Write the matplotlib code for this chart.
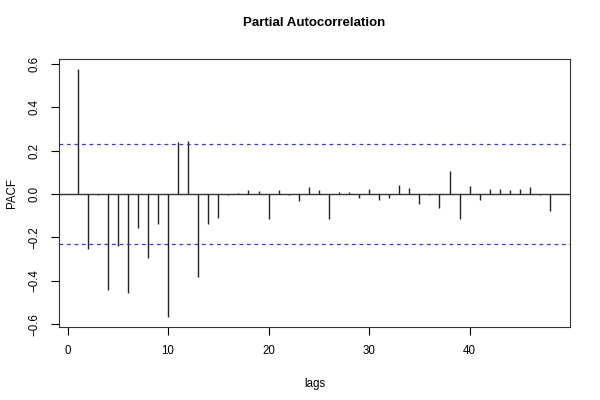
import matplotlib
matplotlib.use("Agg")
import matplotlib.pyplot as plt
import numpy as np

plt.rcParams['font.family'] = ['Liberation Sans', 'DejaVu Sans']

lags = list(range(1, 49))
pacf = [0.577, -0.252, -0.003, -0.441, -0.238, -0.454, -0.155, -0.294, -0.137, -0.566,
        0.240, 0.245, -0.381, -0.140, -0.112, -0.005, 0.003, 0.017, 0.014, -0.113,
        0.018, -0.005, -0.031, 0.032, 0.018, -0.113, 0.010, 0.010, -0.019, 0.022,
        -0.028, -0.017, 0.040, 0.030, -0.048, -0.003, -0.066, 0.108, -0.117, 0.037,
        -0.025, 0.023, 0.023, 0.018, 0.022, 0.032, -0.002, -0.080]
conf = 0.231
xticks = [0, 10, 20, 30, 40]
yticks = [-0.6, -0.4, -0.2, 0.0, 0.2, 0.4, 0.6]

fig = plt.figure(figsize=(6, 4), dpi=100)
ax = fig.add_axes([0.0983, 0.183, 0.852, 0.669])

ax.vlines(lags, 0, pacf, colors='#222222', linewidth=1.0)
ax.axhline(0, color='#333333', linewidth=1.0)
ax.axhline(conf, color='#3333ff', linestyle=(0, (3, 3)), linewidth=0.9)
ax.axhline(-conf, color='#3333ff', linestyle=(0, (3, 3)), linewidth=0.9)

ax.set_xlim(-0.85, 50.0)
ax.set_ylim(-0.612, 0.622)
ax.set_xticks(xticks)
ax.set_xticklabels([str(t) for t in xticks])
ax.set_yticks(yticks)
ax.set_yticklabels([f"{t:.1f}".replace('-', '\u2212') for t in yticks], rotation=90, va='center')
ax.tick_params(direction='out', length=6, width=0.8, labelsize=8.3, pad=7, colors='black')
for s in ax.spines.values():
    s.set_linewidth(0.8)
    s.set_color('#333333')

ax.set_xlabel('lags', fontsize=8.3, labelpad=15)
ax.set_ylabel('PACF', fontsize=8.3, labelpad=8)
fig.text(0.523, 0.942, 'Partial Autocorrelation', ha='center', va='center',
         fontsize=9.5, fontweight='bold')

fig.savefig('out.png', dpi=100)
